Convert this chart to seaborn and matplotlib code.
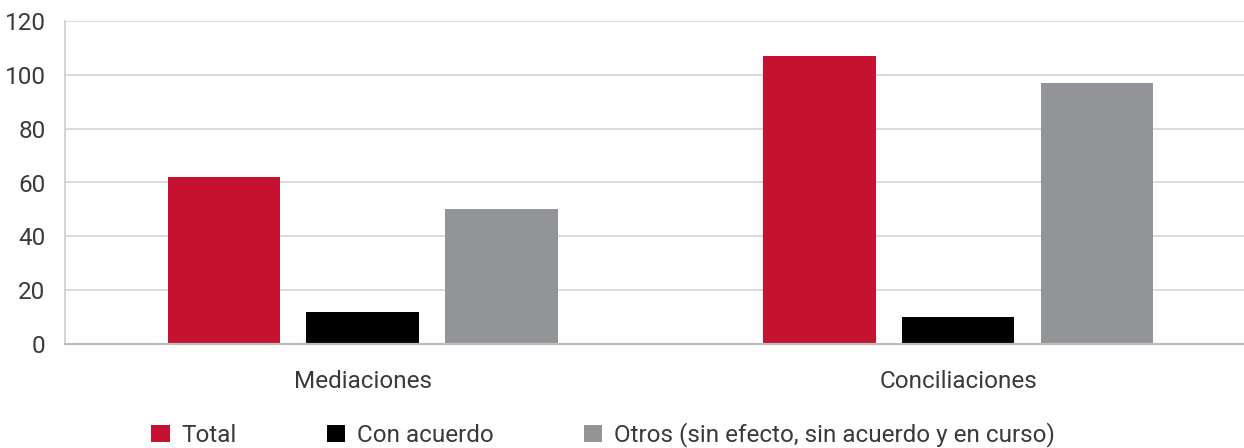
import matplotlib
matplotlib.use("Agg")
import matplotlib.pyplot as plt
import seaborn as sns
import pandas as pd
from matplotlib.patches import Patch

categories = ["Mediaciones", "Conciliaciones"]
series = ["Total", "Con acuerdo", "Otros (sin efecto, sin acuerdo y en curso)"]
total = [62, 107]
con_acuerdo = [12, 10]
otros = [50, 97]
colors = ["#C41230", "#000000", "#939498"]
yticks = [0, 20, 40, 60, 80, 100, 120]

rows = []
for s, vals in zip(series, [total, con_acuerdo, otros]):
    for c, v in zip(categories, vals):
        rows.append({"cat": c, "serie": s, "valor": v})
df = pd.DataFrame(rows)

sns.set_theme(style="white")
plt.rcParams["font.family"] = ["Roboto", "DejaVu Sans"]
text_color = "#3a3a3a"
fs = 17.5

fig = plt.figure(figsize=(12.44, 4.48), dpi=100)
ax = fig.add_axes([65 / 1244, 1 - 344 / 448, 1 - 65 / 1244, (344 - 21) / 448])

sns.barplot(data=df, x="cat", y="valor", hue="serie", order=categories,
            hue_order=series, palette=colors, width=0.7, gap=0.19,
            saturation=1, ax=ax, legend=False, linewidth=0)

ax.set_xlim(-0.5, 1.48)
ax.set_ylim(0, 120)
ax.set_yticks(yticks)
ax.set_yticklabels([str(t) for t in yticks])
ax.yaxis.grid(True, color="#d4d4d4", linewidth=1.2)
ax.set_axisbelow(True)
for side in ["top", "right"]:
    ax.spines[side].set_visible(False)
ax.spines["left"].set_color("#cccccc")
ax.spines["left"].set_linewidth(1.2)
ax.spines["bottom"].set_color("#bdbdbd")
ax.spines["bottom"].set_linewidth(1.6)
ax.set_xlabel("")
ax.set_ylabel("")
ax.tick_params(axis="y", length=0, pad=14, labelsize=fs, labelcolor=text_color)
ax.tick_params(axis="x", length=0, pad=19, labelsize=fs, labelcolor=text_color)
ax.set_xticks([0.5], minor=True)
ax.tick_params(axis="x", which="minor", direction="in", length=6.5,
               color="#d9d9d9", width=1)

handles = [Patch(facecolor=c, edgecolor="none") for c in colors]
fig.legend(handles, series, loc="center", bbox_to_anchor=(0.485, 1 - 435 / 448),
           ncol=3, frameon=False, fontsize=fs, handlelength=0.75, handleheight=0.75,
           handletextpad=0.5, columnspacing=3.7, labelcolor=text_color)

fig.savefig("out.png", dpi=100)
